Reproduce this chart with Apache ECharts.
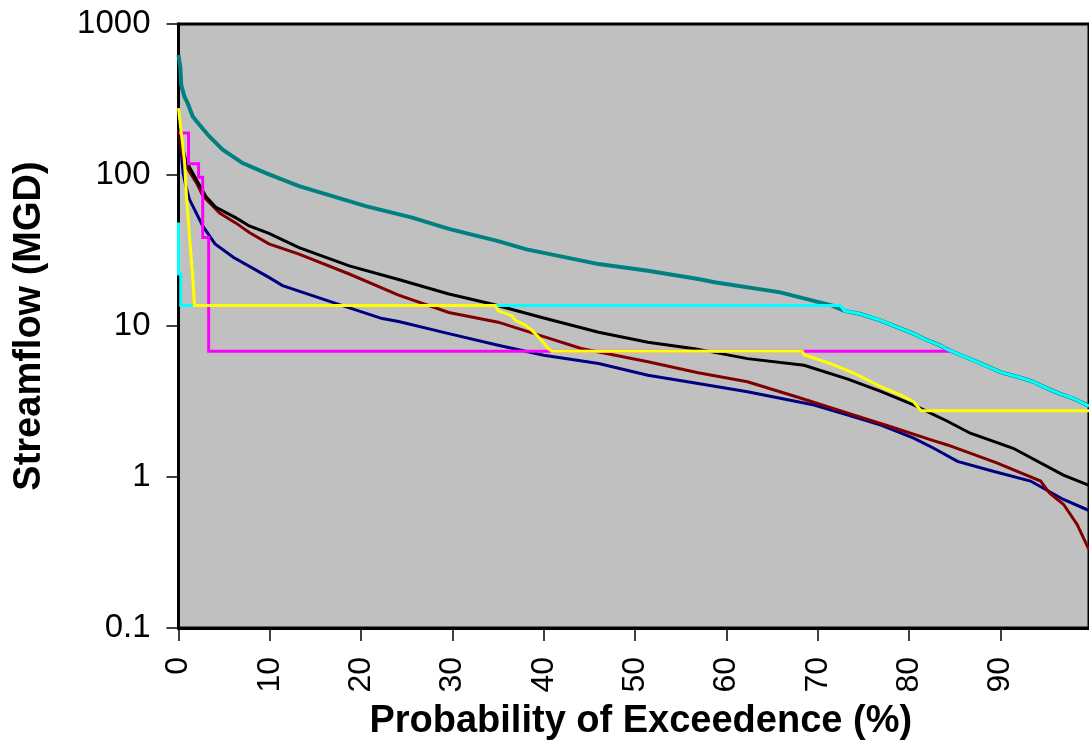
<!DOCTYPE html>
<html>
<head>
<meta charset="utf-8">
<title>Streamflow duration curves</title>
<script src="https://cdn.jsdelivr.net/npm/echarts@6/dist/echarts.min.js"></script>
<style>
  html, body { margin: 0; padding: 0; background: #ffffff; }
  #chart { width: 1089px; height: 746px; }
</style>
</head>
<body>
<div id="chart"></div>
<script>
// Flow-duration curves: [probability of exceedence (%), streamflow (MGD)]
const tealFlow = [
  [0, 623], [0.19, 521], [0.3, 395], [0.65, 330], [1.0, 299], [1.56, 244],
  [2.29, 215], [3.38, 180], [4.84, 147], [7.02, 120], [9.57, 103], [13.2, 84.4],
  [16.85, 72.4], [20.5, 62.2], [25.6, 52.2], [29.6, 44], [35, 36.5], [38, 32.3],
  [46, 25.7], [51.4, 23.2], [56.9, 20.5], [58.7, 19.5], [65.9, 16.7], [71.6, 13.65],
  [72.9, 12.6], [74.7, 12.0], [76.9, 10.87], [78.7, 9.84], [80.5, 8.9], [81.6, 8.23],
  [83.4, 7.45], [84.0, 7.08], [85.3, 6.55], [88, 5.6], [90, 4.95], [92.5, 4.49],
  [93.6, 4.27], [95.1, 3.86], [96.5, 3.57], [98.0, 3.31], [99.7, 2.95]
];
const navyFlow = [
  [0.2, 150], [0.35, 130], [0.5, 103], [0.8, 85], [1.2, 69], [2.65, 46], [4.0, 35],
  [6.0, 28.5], [9.9, 21], [11.4, 18.5], [16.8, 14.4], [22.3, 11.2], [24.1, 10.7],
  [29.6, 8.9], [35, 7.45], [40, 6.4], [46, 5.64], [51.4, 4.72], [56.9, 4.16],
  [62.3, 3.67], [69.6, 3.0], [73.3, 2.57], [77, 2.2], [80.5, 1.81], [82.7, 1.55],
  [85.3, 1.27], [89, 1.1], [93.3, 0.94], [96.9, 0.71], [99.7, 0.6]
];
const maroonFlow = [
  [0, 200], [0.3, 150], [0.6, 122], [1.2, 105], [2.0, 88], [2.65, 73], [4.5, 56],
  [6.3, 48], [7.75, 41.6], [9.9, 35], [13.2, 29.9], [18.7, 22.1], [24.1, 16.0],
  [29.6, 12.3], [35, 10.6], [40, 8.5], [44.1, 7.1], [51.4, 5.8], [56.9, 4.9],
  [62.3, 4.27], [68, 3.35], [73.3, 2.65], [78, 2.15], [82.4, 1.76], [84.2, 1.63],
  [89.6, 1.24], [94.4, 0.94], [95.4, 0.78], [96.9, 0.66], [98.4, 0.485], [99.7, 0.33]
];
const blackFlow = [
  [0, 230], [0.3, 165], [0.8, 125], [1.75, 98], [3.0, 72], [4.1, 61], [6.3, 52],
  [7.75, 46], [9.9, 41], [13.2, 33], [18.7, 25], [24.1, 20.3], [29.6, 16.3],
  [34.3, 14.0], [40, 11.3], [46, 9.1], [51.4, 7.8], [56.5, 7.08], [62.3, 6.08],
  [68.5, 5.5], [73.3, 4.45], [76.9, 3.69], [80.5, 3.0], [81.6, 2.78], [84.2, 2.34],
  [86.7, 1.95], [91.4, 1.55], [96.9, 1.03], [99.7, 0.88]
];
const magentaFlow = [
  [0.05, 190], [1.1, 190], [1.1, 118.6], [2.2, 118.6], [2.2, 96.5], [2.65, 96.5],
  [2.65, 38.6], [3.3, 38.6], [3.3, 6.8], [84.7, 6.8]
];
const cyanFlow = [
  [0, 48.4], [0, 22.1], [0.25, 22.1], [0.25, 13.65], [71.6, 13.65], [72.5, 13.65],
  [72.9, 12.6], [74.7, 12.0], [76.9, 10.87], [78.7, 9.84], [80.5, 8.9], [81.6, 8.23],
  [83.4, 7.45], [84.0, 7.08], [85.3, 6.55], [88, 5.6], [90, 4.95], [92.5, 4.49],
  [93.6, 4.27], [95.1, 3.86], [96.5, 3.57], [98.0, 3.31], [99.7, 2.95]
];
const yellowFlow = [
  [0, 277], [0.3, 190], [0.65, 126], [0.85, 76], [1.2, 39.5], [1.55, 21.5], [1.75, 13.65],
  [34.7, 13.65], [35.0, 12.6], [36.5, 11.7], [36.9, 10.9], [38.0, 10.1], [38.7, 9.35],
  [39.4, 8.45], [40.1, 7.6], [40.5, 7.07], [40.9, 6.8], [68.3, 6.8], [68.5, 6.46],
  [71.4, 5.64], [74.0, 4.85], [76.9, 3.96], [79.1, 3.48], [80.5, 3.15], [81.3, 2.75],
  [99.7, 2.75]
];

const xTicks = { min: 0, max: 99.7, step: 10 };
const yTicks = { min: 0.1, max: 1000 };

const font = "'Liberation Sans', Arial, sans-serif";

function curve(data, color, width) {
  return {
    type: 'line',
    data: data,
    showSymbol: false,
    symbol: 'none',
    silent: true,
    lineStyle: { color: color, width: width, cap: 'butt', join: 'miter' },
    emphasis: { disabled: true }
  };
}

const chart = echarts.init(document.getElementById('chart'), null, { renderer: 'canvas' });
chart.setOption({
  animation: false,
  backgroundColor: '#ffffff',
  grid: {
    left: 178.5, top: 24, right: -3, bottom: 115,
    show: true, backgroundColor: '#c0c0c0', borderColor: '#000000', borderWidth: 3,
    containLabel: false
  },
  xAxis: {
    type: 'value',
    min: xTicks.min, max: xTicks.max, interval: xTicks.step,
    name: 'Probability of Exceedence (%)',
    nameLocation: 'middle',
    nameGap: 75,
    nameTextStyle: { fontFamily: font, fontSize: 38, fontWeight: 'bold', color: '#000', padding: [0, 0, 0, 14] },
    axisLine: { show: true, onZero: false, lineStyle: { color: '#000', width: 3 } },
    axisTick: { show: true, inside: false, length: 13, lineStyle: { color: '#000', width: 1.5 } },
    axisLabel: {
      rotate: 90, margin: 29, fontFamily: font, fontSize: 32, color: '#000',
      showMaxLabel: false
    },
    splitLine: { show: false }
  },
  yAxis: {
    type: 'log',
    logBase: 10,
    min: yTicks.min, max: yTicks.max,
    name: 'Streamflow (MGD)',
    nameLocation: 'middle',
    nameGap: 130,
    nameTextStyle: { fontFamily: font, fontSize: 38, fontWeight: 'bold', color: '#000' },
    axisLine: { show: true, lineStyle: { color: '#000', width: 3 } },
    axisTick: { show: true, inside: false, length: 12, lineStyle: { color: '#000', width: 1.5 } },
    minorTick: { show: false },
    axisLabel: {
      margin: 28, fontFamily: font, fontSize: 33, color: '#000',
      formatter: function (v) { return String(+v.toPrecision(6)); }
    },
    splitLine: { show: false }
  },
  series: [
    curve(tealFlow, '#008080', 4),
    curve(navyFlow, '#000080', 3),
    curve(maroonFlow, '#800000', 3),
    curve(blackFlow, '#000000', 3),
    curve(magentaFlow, '#ff00ff', 3),
    curve(cyanFlow, '#00ffff', 3),
    curve(yellowFlow, '#ffff00', 3)
  ]
});
</script>
</body>
</html>
